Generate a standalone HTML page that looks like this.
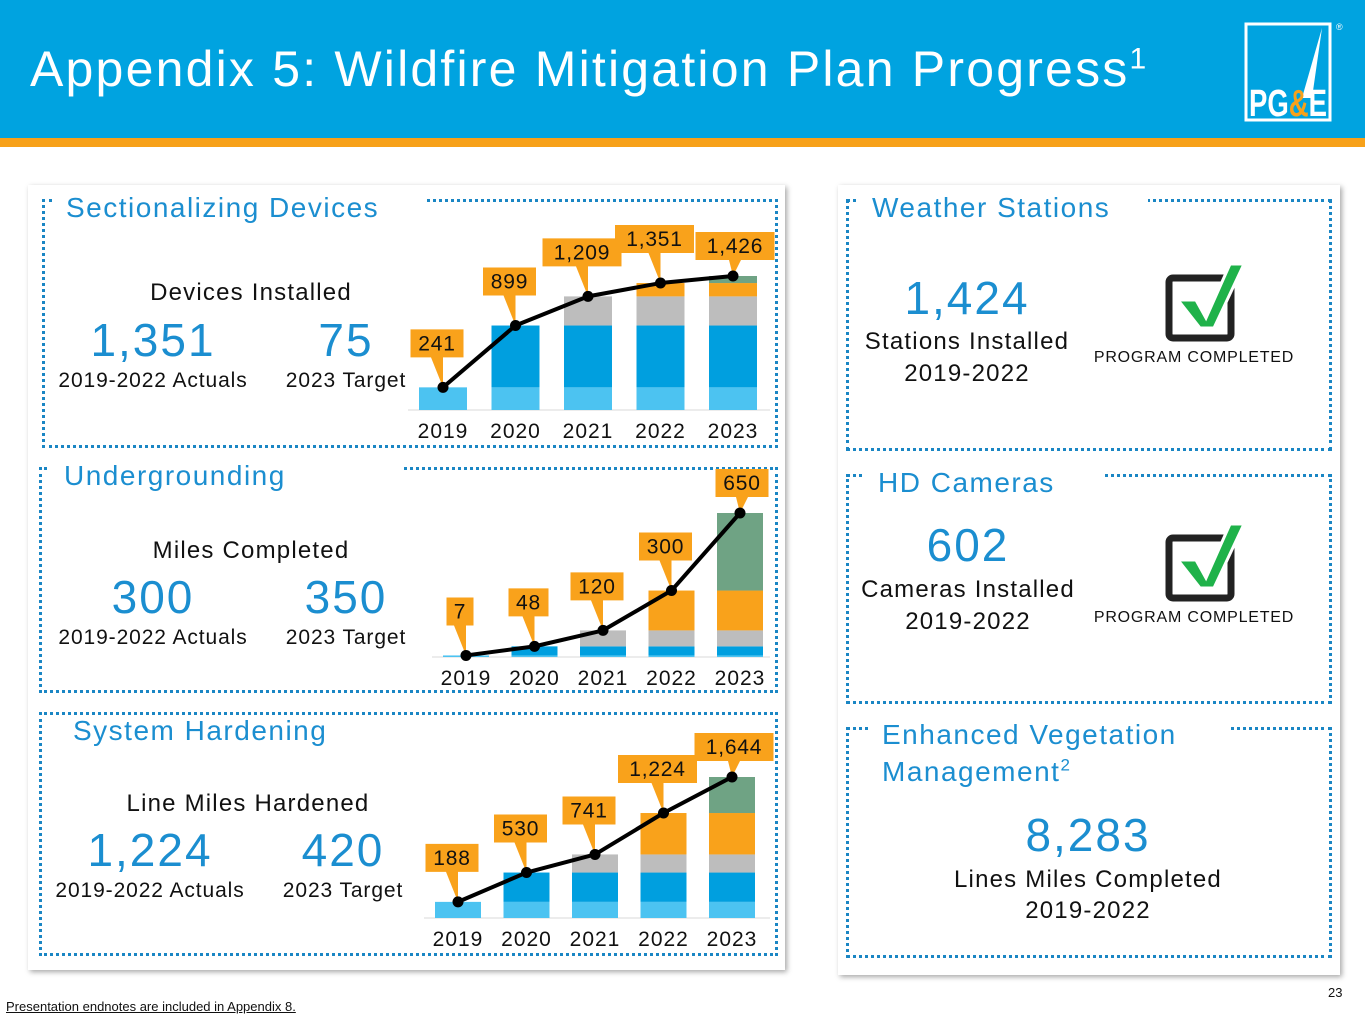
<!DOCTYPE html>
<html><head><meta charset="utf-8"><style>
*{margin:0;padding:0;box-sizing:border-box}
body{width:1365px;height:1024px;position:relative;background:#fff;font-family:"Liberation Sans",sans-serif;overflow:hidden}
.a{position:absolute;white-space:nowrap}
.c{transform:translate(-50%,-50%)}
.box{position:absolute;border:3px dotted #1a86c4}
.ttl{position:absolute;background:#fff;color:#1b8ed0;font-size:28px;padding:0 10px 0 14px;letter-spacing:1.5px}
.blue{color:#1b8ed0;font-size:46px;letter-spacing:2px}
.k{color:#111;font-size:24px;letter-spacing:1.2px}
.s{color:#111;font-size:21px;letter-spacing:0.9px}
.panel{position:absolute;background:#fff;box-shadow:2px 2px 5px rgba(0,0,0,.35)}
sup{line-height:0}
</style></head><body>
<div class="a" style="left:0;top:0;width:1365px;height:138px;background:#00a3e0"></div>
<div class="a" style="left:0;top:138px;width:1365px;height:9px;background:#f7a11a"></div>
<div class="a" style="left:30px;top:40px;font-size:50px;color:#fff;letter-spacing:2.2px">Appendix 5: Wildfire Mitigation Plan Progress<sup style="font-size:30px">1</sup></div>
<svg class="a" style="left:1244px;top:20px" width="110" height="104">
<rect x="2" y="4" width="84" height="96" fill="none" stroke="#fff" stroke-width="3"/>
<polygon points="78,8 58,78 68,78" fill="#fff"/>
<text x="5" y="96" font-family="Liberation Sans" font-weight="bold" font-size="38" fill="#fff" textLength="78" lengthAdjust="spacingAndGlyphs">PG<tspan fill="#f7a11a">&amp;</tspan>E</text>
<text x="92" y="10" font-size="9" fill="#fff">®</text>
</svg>

<div class="panel" style="left:28px;top:185px;width:757px;height:785px"></div>
<div class="panel" style="left:838px;top:185px;width:502px;height:790px"></div>

<div class="box" style="left:42px;top:199px;width:736px;height:249px"></div>
<div class="ttl" style="left:52px;top:192px;width:373px">Sectionalizing Devices</div>
<div class="box" style="left:39px;top:467px;width:739px;height:226px"></div>
<div class="ttl" style="left:50px;top:460px;width:352px">Undergrounding</div>
<div class="box" style="left:39px;top:712px;width:739px;height:244px"></div>
<div class="ttl" style="left:59px;top:715px;width:304px">System Hardening</div>

<div class="box" style="left:846px;top:199px;width:486px;height:252px"></div>
<div class="ttl" style="left:858px;top:192px;width:290px">Weather Stations</div>
<div class="box" style="left:846px;top:474px;width:486px;height:230px"></div>
<div class="ttl" style="left:864px;top:467px;width:240px">HD Cameras</div>
<div class="box" style="left:846px;top:727px;width:486px;height:231px"></div>
<div class="ttl" style="left:868px;top:716px;width:360px;line-height:37px;white-space:normal">Enhanced Vegetation Management<sup style="font-size:17px">2</sup></div>

<div class="a c k" style="left:251px;top:293px">Devices Installed</div>
<div class="a c blue" style="left:153px;top:340px">1,351</div>
<div class="a c blue" style="left:346px;top:340px">75</div>
<div class="a c s" style="left:153px;top:381px">2019-2022 Actuals</div>
<div class="a c s" style="left:346px;top:381px">2023 Target</div>

<div class="a c k" style="left:251px;top:551px">Miles Completed</div>
<div class="a c blue" style="left:153px;top:597px">300</div>
<div class="a c blue" style="left:346px;top:597px">350</div>
<div class="a c s" style="left:153px;top:638px">2019-2022 Actuals</div>
<div class="a c s" style="left:346px;top:638px">2023 Target</div>

<div class="a c k" style="left:248px;top:804px">Line Miles Hardened</div>
<div class="a c blue" style="left:150px;top:850px">1,224</div>
<div class="a c blue" style="left:343px;top:850px">420</div>
<div class="a c s" style="left:150px;top:891px">2019-2022 Actuals</div>
<div class="a c s" style="left:343px;top:891px">2023 Target</div>

<div class="a c blue" style="left:967px;top:298px">1,424</div>
<div class="a c k" style="left:967px;top:342px">Stations Installed</div>
<div class="a c k" style="left:967px;top:374px">2019-2022</div>
<div class="a c blue" style="left:968px;top:545px">602</div>
<div class="a c k" style="left:968px;top:590px">Cameras Installed</div>
<div class="a c k" style="left:968px;top:622px">2019-2022</div>
<div class="a c blue" style="left:1088px;top:835px">8,283</div>
<div class="a c k" style="left:1088px;top:880px">Lines Miles Completed</div>
<div class="a c k" style="left:1088px;top:911px">2019-2022</div>

<svg class="a" style="left:1160px;top:262px" width="90" height="82">
<rect x="9" y="16" width="62" height="60" rx="4" fill="none" stroke="#222" stroke-width="7"/>
<polygon points="18,38 36,38 46,56 70,2 84,2 54,66 40,66" fill="#1fb24a" stroke="#fff" stroke-width="3"/>
</svg>
<div class="a c" style="left:1194px;top:358px;font-size:16px;color:#111;letter-spacing:.8px">PROGRAM COMPLETED</div>
<svg class="a" style="left:1160px;top:522px" width="90" height="82">
<rect x="9" y="16" width="62" height="60" rx="4" fill="none" stroke="#222" stroke-width="7"/>
<polygon points="18,38 36,38 46,56 70,2 84,2 54,66 40,66" fill="#1fb24a" stroke="#fff" stroke-width="3"/>
</svg>
<div class="a c" style="left:1194px;top:618px;font-size:16px;color:#111;letter-spacing:.8px">PROGRAM COMPLETED</div>

<div class="a" style="left:6px;top:999px;font-size:13px;text-decoration:underline;color:#111">Presentation endnotes are included in Appendix 8.</div>
<div class="a" style="left:1328px;top:985px;font-size:13px;color:#111">23</div>

<svg class="a" id="charts" style="left:0;top:0" width="1365" height="1024"></svg>
<script>
const years = ["2019","2020","2021","2022","2023"];
const devicesValues = [241, 899, 1209, 1351, 1426];
const devicesLabels = ["241","899","1,209","1,351","1,426"];
const milesValues = [7, 48, 120, 300, 650];
const milesLabels = ["7","48","120","300","650"];
const hardenedValues = [188, 530, 741, 1224, 1644];
const hardenedLabels = ["188","530","741","1,224","1,644"];
const layerColors = ["#4cc3f1","#009fdf","#bdbdbd","#f9a21b","#6fa384"];
const NS="http://www.w3.org/2000/svg";
const svg=document.getElementById('charts');
function mk(tag,attrs){const e=document.createElementNS(NS,tag);for(const k in attrs)e.setAttribute(k,attrs[k]);svg.appendChild(e);return e;}
function chart(name,vals,labels,x0,step,bw,base,top,axisL,axisR){
  const max=vals[vals.length-1];
  const y=v=>base-(v/max)*(base-top);
  const x=i=>x0+i*step;
  const ax=mk('line',{x1:axisL,x2:axisR,y1:base,y2:base,stroke:'#d9d9d9','stroke-width':1});
  
  
  vals.forEach((v,i)=>{
    for(let l=0;l<=i;l++){
      const lo=l===0?0:vals[l-1], hi=vals[l];
      const r=mk('rect',{x:x(i)-bw/2,y:y(hi),width:bw,height:Math.max(0,y(lo)-y(hi)),fill:layerColors[l]});
      
      
    }
    const t=mk('text',{x:x(i),y:base+28,'text-anchor':'middle','font-size':21,'letter-spacing':1,fill:'#111','font-family':'Liberation Sans'});
    t.textContent=years[i];
    
    
  });
  const pl=mk('polyline',{points:vals.map((v,i)=>x(i)+','+y(v)).join(' '),fill:'none',stroke:'#000','stroke-width':4,'stroke-linejoin':'round'});
  
  
  vals.forEach((v,i)=>{
    const px=x(i),py=y(v);
    const w=labels[i].length*13+14,h=28;
    const cx=px-(i===vals.length-1?-2:6), by=py-(i===vals.length-1?16:30);
    const g=mk('polygon',{points:`${cx-w/2},${by-h} ${cx+w/2},${by-h} ${cx+w/2},${by} ${cx+6},${by} ${px},${py} ${cx-6},${by} ${cx-w/2},${by}`,fill:'#f9a21b'});
    
    
    const t=mk('text',{x:cx,y:by-h/2+7,'text-anchor':'middle','font-size':21,'letter-spacing':0.8,fill:'#111','font-family':'Liberation Sans'});
    t.textContent=labels[i];
    
    
    const c=mk('circle',{cx:px,cy:py,r:5.5,fill:'#000'});
    
    
  });
}
chart('devices',devicesValues,devicesLabels,443,72.5,48,410,276,408,770);
chart('miles',milesValues,milesLabels,466,68.5,46,657,513,432,770);
chart('hardened',hardenedValues,hardenedLabels,458,68.5,46,918,777,424,770);
</script>
</body></html>
